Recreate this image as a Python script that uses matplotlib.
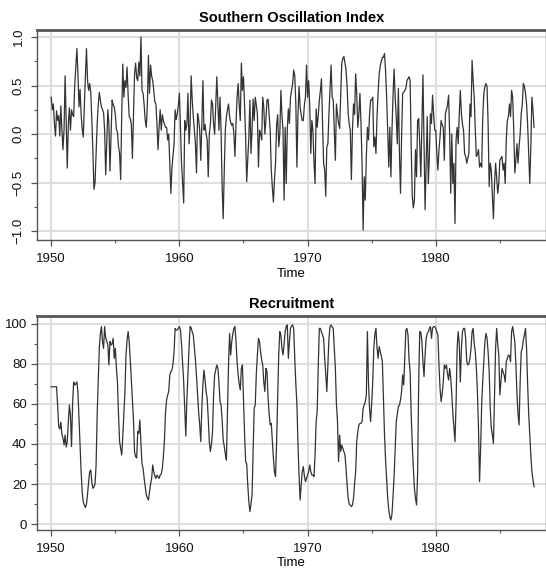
import numpy as np
import matplotlib.pyplot as plt
from matplotlib.ticker import MultipleLocator

plt.rcParams["font.family"] = ["Liberation Sans", "DejaVu Sans"]

# monthly series, Jan 1950 - Sep 1987
soi = [
    0.38, 0.25, 0.31, 0.10, -0.02, 0.24, 0.14, 0.19, -0.02, 0.29, 0.04, -0.16,   # 1950
    0.05, 0.60, 0.10, -0.35, 0.10, 0.27, 0.04, 0.25, 0.20, 0.18, 0.50, 0.70,     # 1951
    0.88, 0.62, 0.28, 0.46, 0.20, 0.05, -0.03, 0.30, 0.60, 0.88, 0.55, 0.45,     # 1952
    0.52, 0.43, 0.15, -0.18, -0.57, -0.50, -0.20, 0.10, 0.30, 0.43, 0.35, 0.28,  # 1953
    0.25, 0.22, 0.04, -0.42, -0.10, 0.25, 0.10, -0.38, 0.00, 0.35, 0.30, 0.28,   # 1954
    0.20, 0.05, 0.02, -0.13, -0.20, -0.47, 0.20, 0.72, 0.38, 0.55, 0.48, 0.69,   # 1955
    0.40, 0.18, 0.16, 0.10, -0.25, 0.18, 0.62, 0.73, 0.58, 0.55, 0.74, 0.60,     # 1956
    1.00, 0.45, 0.42, 0.30, 0.14, 0.07, 0.30, 0.81, 0.42, 0.71, 0.60, 0.55,      # 1957
    0.45, 0.33, 0.31, 0.10, -0.16, 0.07, 0.25, 0.04, 0.20, 0.14, 0.10, 0.07,     # 1958
    0.07, -0.06, 0.00, -0.30, -0.61, -0.35, -0.23, -0.10, 0.25, 0.15, 0.21, 0.30,  # 1959
    0.42, 0.07, -0.30, -0.50, -0.71, 0.14, 0.04, 0.10, 0.42, -0.10, 0.10, 0.60,  # 1960
    0.35, 0.18, 0.04, -0.10, -0.40, 0.21, 0.15, 0.04, -0.27, 0.10, 0.55, 0.04,   # 1961
    0.10, 0.00, -0.06, -0.44, 0.00, 0.10, 0.35, 0.31, 0.10, 0.00, 0.30, 0.59,    # 1962
    0.30, 0.04, 0.38, 0.04, -0.54, -0.87, -0.37, 0.04, 0.18, 0.25, 0.31, 0.18,   # 1963
    0.12, 0.09, 0.11, 0.00, -0.23, 0.11, 0.38, 0.52, 0.30, 0.14, 0.73, 0.45,     # 1964
    0.59, 0.30, -0.03, -0.49, -0.25, -0.03, 0.35, -0.20, 0.04, 0.36, 0.14, 0.38,  # 1965
    0.30, 0.21, -0.34, 0.04, 0.00, -0.06, 0.38, 0.28, 0.00, 0.15, 0.35, 0.36,    # 1966
    0.20, 0.04, -0.37, -0.55, -0.70, -0.47, -0.30, 0.10, 0.20, -0.13, 0.00, 0.45,  # 1967
    0.20, 0.04, -0.68, 0.07, -0.51, 0.05, 0.26, 0.11, 0.38, 0.45, 0.52, 0.66,    # 1968
    0.60, 0.31, -0.34, 0.21, 0.49, 0.28, 0.20, 0.14, 0.14, 0.30, 0.38, 0.71,     # 1969
    0.38, 0.55, 0.30, -0.20, 0.14, 0.04, -0.30, -0.51, 0.26, 0.07, 0.20, 0.35,   # 1970
    0.45, 0.57, 0.11, -0.30, -0.37, -0.64, -0.13, -0.10, 0.21, 0.45, 0.71, 0.38,  # 1971
    0.35, 0.04, -0.27, 0.31, 0.20, 0.11, 0.06, 0.38, 0.73, 0.78, 0.80, 0.73,     # 1972
    0.66, 0.49, 0.21, 0.10, 0.04, -0.47, 0.04, 0.31, 0.20, 0.62, 0.42, 0.07,     # 1973
    0.20, 0.42, 0.11, -0.30, -0.99, -0.44, -0.68, -0.23, 0.07, -0.06, 0.20, 0.35,  # 1974
    0.35, 0.38, -0.13, -0.03, -0.20, 0.18, 0.42, 0.62, 0.70, 0.75, 0.79, 0.79,   # 1975
    0.83, 0.65, 0.38, 0.04, -0.34, 0.07, -0.44, 0.04, 0.40, 0.67, 0.38, 0.18,    # 1976
    -0.10, 0.47, -0.20, -0.61, -0.03, 0.42, 0.43, 0.45, 0.47, 0.55, 0.57, 0.59,  # 1977
    0.55, -0.13, -0.64, -0.76, -0.68, -0.16, -0.44, 0.14, 0.16, -0.10, -0.44, 0.10,  # 1978
    0.61, -0.06, -0.78, -0.30, 0.18, -0.51, -0.23, 0.21, 0.11, 0.40, 0.20, 0.04,  # 1979
    0.04, -0.20, -0.37, -0.16, -0.03, 0.14, 0.10, 0.07, -0.27, 0.21, 0.25, 0.30,  # 1980
    0.40, 0.00, -0.61, 0.00, -0.51, -0.30, -0.92, -0.06, 0.07, -0.10, 0.20, 0.45,  # 1981
    0.21, 0.10, 0.04, -0.20, -0.23, -0.30, -0.25, -0.20, 0.31, 0.18, 0.76, 0.55,  # 1982
    0.38, 0.04, -0.23, -0.21, -0.16, -0.34, -0.30, -0.34, 0.18, 0.42, 0.49, 0.52,  # 1983
    0.49, 0.11, -0.54, -0.30, -0.37, -0.64, -0.87, -0.51, -0.30, -0.44, -0.61, -0.51,  # 1984
    -0.27, -0.25, -0.23, -0.37, -0.30, -0.51, -0.06, 0.14, 0.18, 0.31, 0.18, 0.45,  # 1985
    0.38, 0.04, -0.40, -0.27, -0.10, -0.30, -0.13, 0.00, 0.21, 0.30, 0.52, 0.49,  # 1986
    0.42, 0.31, 0.10, -0.20, -0.51, -0.13, 0.38, 0.25, 0.07,                    # 1987
]

rec = [
    68.6, 68.6, 68.6, 68.6, 68.6, 68.6, 59.2, 48.7, 47.5, 50.9, 44.7, 42.9,   # 1950
    39.6, 44.5, 38.5, 41.1, 51.0, 59.5, 54.5, 38.7, 60.0, 71.0, 69.5, 70.0,   # 1951
    71.0, 66.0, 53.0, 40.0, 26.0, 16.0, 11.0, 9.5, 8.2, 10.0, 15.0, 21.0,     # 1952
    26.2, 27.0, 21.0, 17.8, 18.5, 20.0, 29.5, 54.5, 72.0, 88.0, 95.0, 98.7,   # 1953
    91.2, 87.8, 98.7, 93.0, 91.2, 89.5, 79.5, 91.2, 89.5, 90.0, 92.8, 82.8,   # 1954
    87.8, 78.0, 71.0, 54.5, 41.2, 37.8, 34.5, 44.0, 55.0, 66.2, 84.5, 92.0,   # 1955
    96.2, 91.0, 82.0, 72.0, 62.0, 52.0, 36.0, 33.7, 33.0, 46.2, 45.3, 52.0,   # 1956
    40.0, 30.0, 27.8, 22.8, 18.7, 14.5, 13.0, 12.0, 16.2, 20.0, 22.8, 29.5,   # 1957
    26.2, 24.0, 22.8, 24.5, 23.7, 22.8, 24.5, 25.0, 27.8, 34.0, 42.0, 56.0,   # 1958
    62.0, 64.5, 66.2, 74.5, 76.2, 77.0, 80.0, 86.2, 97.8, 97.0, 97.0, 97.8,   # 1959
    98.7, 97.0, 90.0, 80.0, 71.0, 57.0, 44.0, 62.0, 75.0, 88.0, 98.7, 98.0,   # 1960
    96.0, 94.5, 88.0, 82.0, 74.0, 65.0, 56.0, 49.5, 41.2, 58.0, 70.0, 77.0,   # 1961
    72.0, 66.0, 62.8, 52.8, 41.2, 36.2, 40.0, 46.2, 64.5, 74.5, 77.0, 79.5,   # 1962
    78.0, 71.0, 61.2, 59.5, 52.0, 42.0, 38.7, 35.0, 32.0, 56.0, 80.0, 95.3,   # 1963
    84.5, 91.2, 95.0, 97.8, 98.7, 91.2, 81.2, 74.5, 70.0, 67.0, 77.8, 79.5,   # 1964
    62.8, 45.0, 31.2, 30.0, 19.5, 11.2, 6.2, 10.0, 14.5, 36.2, 57.8, 59.5,    # 1965
    75.0, 84.5, 92.8, 91.2, 86.2, 82.0, 79.5, 71.0, 66.2, 77.8, 76.2, 62.8,   # 1966
    55.0, 49.5, 50.3, 41.2, 33.0, 26.0, 23.7, 41.2, 62.8, 85.0, 96.2, 94.5,   # 1967
    87.8, 84.5, 90.0, 96.2, 98.7, 99.5, 82.8, 91.2, 97.8, 99.0, 99.5, 97.8,   # 1968
    82.8, 70.0, 60.0, 40.0, 24.5, 12.0, 19.5, 26.2, 28.7, 24.0, 21.2, 22.8,   # 1969
    24.5, 26.2, 29.5, 26.2, 24.5, 24.5, 23.7, 34.5, 51.2, 56.2, 79.5, 97.8,   # 1970
    97.8, 96.0, 94.5, 92.8, 82.8, 75.0, 66.2, 79.5, 92.8, 98.7, 99.5, 98.5,   # 1971
    97.8, 87.8, 78.0, 60.0, 51.2, 31.2, 44.5, 36.2, 39.5, 37.8, 36.0, 34.5,   # 1972
    27.8, 19.5, 12.8, 10.0, 9.5, 8.7, 9.5, 12.8, 20.0, 26.2, 41.2, 46.2,      # 1973
    49.5, 50.3, 50.3, 51.2, 57.8, 59.5, 61.0, 64.5, 96.2, 71.0, 57.8, 51.2,   # 1974
    60.0, 71.0, 87.8, 95.0, 97.8, 88.0, 82.8, 88.7, 86.2, 84.0, 81.2, 62.8,   # 1975
    45.0, 32.0, 22.0, 13.0, 7.0, 3.5, 2.0, 5.0, 14.0, 24.0, 37.8, 51.2,       # 1976
    55.0, 58.7, 59.5, 62.0, 66.2, 74.5, 69.5, 82.8, 97.0, 97.8, 94.5, 82.0,   # 1977
    76.2, 54.5, 40.0, 28.0, 18.0, 13.0, 9.5, 25.0, 70.0, 96.2, 96.0, 91.2,    # 1978
    81.2, 73.7, 84.5, 92.8, 95.3, 96.0, 97.8, 98.7, 92.8, 98.0, 98.7, 98.7,   # 1979
    97.8, 96.0, 94.5, 79.5, 67.8, 61.2, 65.0, 71.0, 79.5, 77.8, 79.5, 75.0,   # 1980
    72.0, 77.8, 73.0, 65.0, 55.0, 48.0, 41.2, 60.0, 88.0, 96.2, 90.0, 71.0,   # 1981
    87.8, 96.2, 97.8, 97.8, 92.8, 81.2, 79.5, 80.0, 82.8, 87.8, 96.2, 97.8,   # 1982
    90.0, 86.2, 77.8, 66.2, 48.0, 21.2, 38.0, 60.0, 72.0, 81.2, 91.2, 95.3,   # 1983
    93.0, 86.0, 76.2, 57.8, 48.0, 44.5, 40.3, 64.5, 87.8, 97.8, 90.0, 84.5,   # 1984
    64.5, 71.0, 77.8, 76.0, 74.5, 71.0, 81.2, 82.8, 84.5, 84.0, 81.2, 96.2,   # 1985
    98.7, 95.0, 91.2, 80.0, 65.0, 55.0, 49.5, 71.0, 86.2, 87.8, 92.0, 94.5,   # 1986
    97.8, 87.8, 70.0, 55.0, 45.0, 34.5, 26.2, 22.0, 18.7,                     # 1987
]

start_year = 1950
time_soi = start_year + np.arange(len(soi)) / 12
time_rec = start_year + np.arange(len(rec)) / 12

grid_col = "#dedede"
line_col = "#333333"
box_col = "#555555"


def style_axes(ax):
    ax.grid(True, color=grid_col, linewidth=1.4, zorder=0)
    ax.set_axisbelow(True)
    for side in ["left", "right", "bottom"]:
        ax.spines[side].set_color(box_col)
        ax.spines[side].set_linewidth(1.0)
    ax.spines["top"].set_color(box_col)
    ax.spines["top"].set_linewidth(2.0)
    ax.xaxis.set_major_locator(MultipleLocator(10))
    ax.xaxis.set_minor_locator(MultipleLocator(5))
    ax.tick_params(axis="both", which="major", length=4, width=0.9,
                   color=box_col, labelsize=9.5, labelcolor="#111111")
    ax.tick_params(axis="x", which="major", pad=5)
    ax.tick_params(axis="both", which="minor", length=2, width=0.8, color=box_col)
    ax.set_xlabel("Time", fontsize=9.5, labelpad=2)
    ax.set_xlim(1948.9, 1988.6)


fig = plt.figure(figsize=(5.46, 5.72), dpi=100)

# SOI panel
ax1 = fig.add_axes([0.068, 0.580, 0.932, 0.3676])
ax1.plot(time_soi, soi, color=line_col, linewidth=0.9, zorder=3)
style_axes(ax1)
ax1.set_ylim(-1.093, 1.072)
ax1.yaxis.set_major_locator(MultipleLocator(0.5))
ax1.yaxis.set_minor_locator(MultipleLocator(0.25))
ax1.tick_params(axis="y", which="major", pad=5)
for lab in ax1.get_yticklabels():
    lab.set_rotation(90)
    lab.set_va("center")
ax1.set_title("Southern Oscillation Index", fontsize=10.5, fontweight="bold", pad=6)

# Recruitment panel
ax2 = fig.add_axes([0.068, 0.0734, 0.932, 0.3742])
ax2.plot(time_rec, rec, color=line_col, linewidth=0.9, zorder=3)
style_axes(ax2)
ax2.set_ylim(-3, 104)
ax2.yaxis.set_major_locator(MultipleLocator(20))
ax2.yaxis.set_minor_locator(MultipleLocator(10))
ax2.set_title("Recruitment", fontsize=10.5, fontweight="bold", pad=6)

fig.savefig("out.png", dpi=100)
